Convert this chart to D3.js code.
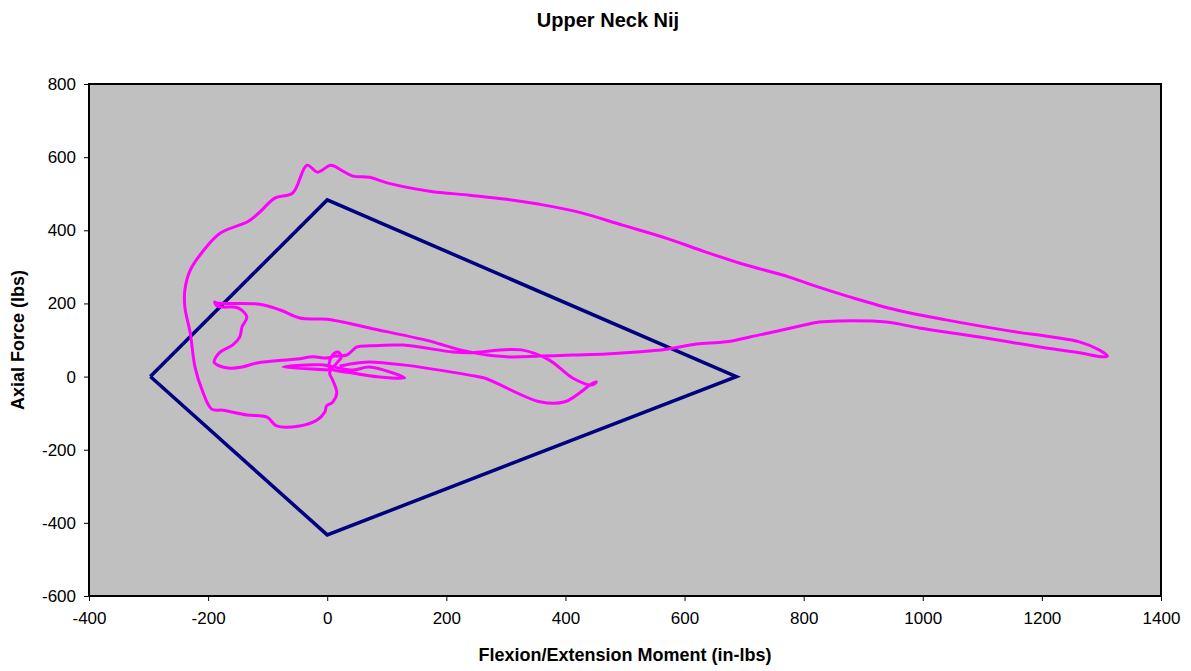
<!DOCTYPE html>
<html><head><meta charset="utf-8">
<script src="https://cdn.jsdelivr.net/npm/d3@7"></script>
<style>body{margin:0;background:#fff;} text{font-family:Arial,"Liberation Sans",sans-serif;}</style>
</head><body><svg id="c" width="1191" height="671"></svg>
<script>
const xTicks = [-400,-200,0,200,400,600,800,1000,1200,1400];
const yTicks = [-600,-400,-200,0,200,400,600,800];
// Nij critical envelope (moment, force)
const envMoment = [-297, 0, 687, 0, -297];
const envForce  = [0, 483, 0, -433, 0];
// Measured trace: moment (in-lbs) and axial force (lbs)
const traceMoment = [4,-74,-12,43,71,130,88,43,4,9,18,24,16,4,9,16,9,-1,-4,-17,-46,-85,-101,-135,-175,-194,-210,-222,-230,-239,-239,-230,-210,-180,-133,-113,-88,-58,-34,-16,6,24,43,71,102,172,239,301,357,424,496,570,626,693,776,815,877,956,1039,1145,1217,1263,1296,1310,1301,1263,1207,1095,994,939,860,826,788,726,670,620,570,519,469,412,357,301,239,189,177,71,26,0,-46,-79,-113,-185,-189,-185,-175,-150,-135,-143,-147,-159,-180,-190,-185,-163,-143,-118,-51,-24,-1,13,33,50,71,127,211,239,326,373,412,444,452,446,399,357,264,239,127,71,50,21];
const traceForce  = [18,26,32,18,26,-4,-1,10,24,59,67,54,37,10,-9,-45,-70,-80,-97,-119,-135,-135,-111,-105,-92,-89,-37,26,119,190,237,291,340,392,424,450,488,502,578,559,578,564,548,545,529,507,496,485,471,449,414,378,346,310,272,250,218,182,155,125,108,95,73,56,54,65,78,108,133,149,152,149,136,114,95,89,75,67,62,59,56,54,67,89,95,133,149,157,160,182,198,201,204,193,190,188,163,136,108,86,67,40,32,23,26,37,48,54,51,56,59,81,84,86,67,65,73,45,-4,-23,-15,-18,-69,-69,-4,4,32,40,37,29];

const svg = d3.select("#c");
const L=89, R=1161, T=84, B=596;
const x = d3.scaleLinear().domain([-400,1400]).range([L,R]);
const y = d3.scaleLinear().domain([-600,800]).range([B,T]);

svg.append("rect").attr("x",L).attr("y",T).attr("width",R-L).attr("height",B-T).attr("fill","#C0C0C0");

svg.append("clipPath").attr("id","pc").append("rect").attr("x",L).attr("y",T).attr("width",R-L).attr("height",B-T);
const g = svg.append("g").attr("clip-path","url(#pc)");
const line = d3.line().x(d=>x(d[0])).y(d=>y(d[1]));

g.append("path").datum(envMoment.map((m,i)=>[m,envForce[i]]))
  .attr("d",line).attr("fill","none").attr("stroke","#000080").attr("stroke-width",3.5).attr("stroke-linejoin","miter");
g.append("path").datum(traceMoment.map((m,i)=>[m,traceForce[i]]))
  .attr("d",d3.line().x(d=>x(d[0])).y(d=>y(d[1])).curve(d3.curveCatmullRom.alpha(0.5)))
  .attr("fill","none").attr("stroke","#FF00FF").attr("stroke-width",3).attr("stroke-linejoin","round");

svg.append("rect").attr("x",L).attr("y",T).attr("width",R-L).attr("height",B-T).attr("fill","none").attr("stroke","#000").attr("stroke-width",2);

const fmt = d => String(d);
const xa = svg.append("g").attr("transform",`translate(0,${B})`)
  .call(d3.axisBottom(x).tickValues(xTicks).tickSize(5).tickSizeOuter(0).tickFormat(fmt));
const ya = svg.append("g").attr("transform",`translate(${L},0)`)
  .call(d3.axisLeft(y).tickValues(yTicks).tickSize(5).tickSizeOuter(0).tickFormat(fmt));
[xa,ya].forEach(a=>{a.select(".domain").remove();
  a.selectAll("line").attr("stroke","#000");
  a.selectAll("text").attr("font-size",17).attr("fill","#000").attr("font-family","Arial, 'Liberation Sans', sans-serif");});
xa.selectAll("text").attr("y",16).attr("dy","0.71em");
ya.selectAll("text").attr("x",-13);

svg.append("text").attr("x",608).attr("y",27).attr("text-anchor","middle").attr("font-size",20).attr("font-weight","bold").text("Upper Neck Nij");
svg.append("text").attr("x",625).attr("y",661).attr("text-anchor","middle").attr("font-size",18).attr("font-weight","bold").text("Flexion/Extension Moment (in-lbs)");
svg.append("text").attr("transform","translate(24,340) rotate(-90)").attr("text-anchor","middle").attr("font-size",18).attr("font-weight","bold").text("Axial Force (lbs)");
</script></body></html>
